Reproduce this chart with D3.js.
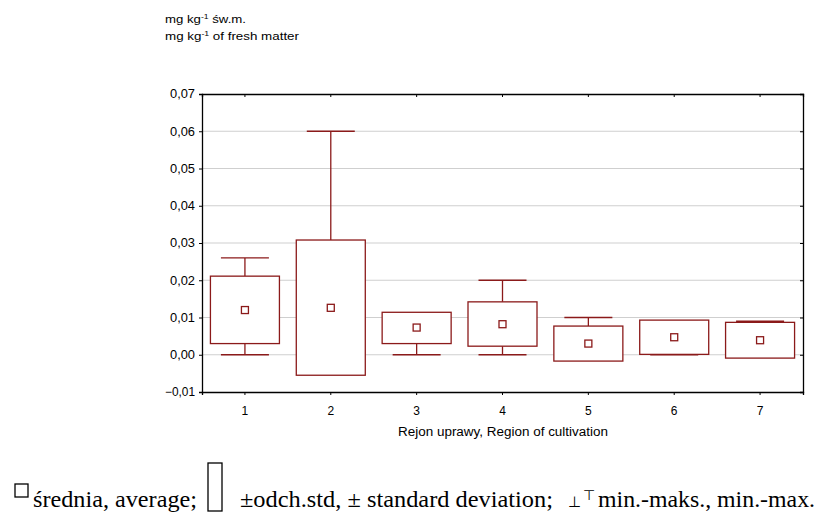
<!DOCTYPE html>
<html>
<head>
<meta charset="utf-8">
<script src="https://cdn.jsdelivr.net/npm/d3@7"></script>
<style>
  body { margin: 0; background: #fff; }
  .sans { font-family: "Liberation Sans", Arial, sans-serif; }
  .serif { font-family: "Liberation Serif", "Times New Roman", serif; }
</style>
</head>
<body>
<div id="chart"></div>
<script>
// data
const regions = ["1", "2", "3", "4", "5", "6", "7"];
const means   = [0.0120, 0.0126, 0.0073, 0.0082, 0.0030, 0.0047, 0.0039];
const sdLow   = [0.0030, -0.0055, 0.0030, 0.0023, -0.0017, 0.0001, -0.0009];
const sdHigh  = [0.0211, 0.0308, 0.0114, 0.0142, 0.0077, 0.0093, 0.0087];
const minVals = [0.000, 0.000, 0.000, 0.000, 0.000, 0.000, 0.000];
const maxVals = [0.026, 0.060, 0.011, 0.020, 0.010, 0.009, 0.009];
const yTicks  = [-0.01, 0, 0.01, 0.02, 0.03, 0.04, 0.05, 0.06, 0.07];

const width = 818, height = 524;
const margin = { top: 94, right: 15, bottom: 132, left: 202 };
const red = "#8b1a1a";

const data = regions.map((r, i) => ({
  region: r, mean: means[i], lo: sdLow[i], hi: sdHigh[i], min: minVals[i], max: maxVals[i]
}));

const svg = d3.select("#chart").append("svg")
  .attr("width", width)
  .attr("height", height);

const x = d3.scaleBand()
  .domain(regions)
  .range([margin.left, width - margin.right]);

const y = d3.scaleLinear()
  .domain([-0.01, 0.07])
  .range([height - margin.bottom, margin.top]);

const fmt = d => d3.format(".2f")(d).replace(".", ",").replace("-0,00", "0,00");

const chart = svg.append("g").attr("class", "sans");

// grid
chart.append("g")
  .selectAll("line")
  .data(yTicks.slice(1, -1))
  .join("line")
  .attr("x1", margin.left).attr("x2", width - margin.right)
  .attr("y1", d => y(d)).attr("y2", d => y(d))
  .attr("stroke", "#cfcfcf")
  .attr("stroke-width", 1);

// axes
const left = chart.append("g")
  .attr("transform", `translate(${margin.left},0)`)
  .call(d3.axisLeft(y).tickValues(yTicks).tickFormat(fmt).tickSize(3).tickPadding(4));
const bottom = chart.append("g")
  .attr("transform", `translate(0,${height - margin.bottom})`)
  .call(d3.axisBottom(x).tickSize(3).tickPadding(11));
chart.append("g")
  .attr("transform", `translate(0,${margin.top})`)
  .call(d3.axisTop(x).tickSize(-3).tickFormat(""));
chart.append("g")
  .attr("transform", `translate(${width - margin.right},0)`)
  .call(d3.axisRight(y).tickValues(yTicks).tickSize(-3).tickFormat(""));

chart.selectAll(".domain").attr("stroke", "#000").attr("stroke-width", 1.3);
chart.selectAll(".tick line").attr("stroke", "#000");
chart.selectAll("g").attr("font-family", null);
left.selectAll("text").attr("font-size", 12).attr("fill", "#000")
  .attr("textLength", d => d < 0 ? 30 : 25).attr("lengthAdjust", "spacingAndGlyphs");
bottom.selectAll("text").attr("font-size", 12).attr("fill", "#000");

// boxes
const boxW = 69, capW = 48;
const g = chart.append("g").attr("stroke", red).attr("fill", "none").attr("stroke-width", 1.3);

data.forEach(d => {
  const cx = x(d.region) + x.bandwidth() / 2;
  // whiskers
  if (d.max > d.hi) {
    g.append("line").attr("x1", cx).attr("x2", cx).attr("y1", y(d.hi)).attr("y2", y(d.max));
  }
  g.append("line").attr("x1", cx - capW / 2).attr("x2", cx + capW / 2).attr("y1", y(d.max)).attr("y2", y(d.max));
  if (d.min < d.lo) {
    g.append("line").attr("x1", cx).attr("x2", cx).attr("y1", y(d.lo)).attr("y2", y(d.min));
    g.append("line").attr("x1", cx - capW / 2).attr("x2", cx + capW / 2).attr("y1", y(d.min)).attr("y2", y(d.min));
  } else if (Math.abs(y(d.min) - y(d.lo)) < 3) {
    g.append("line").attr("x1", cx - capW / 2).attr("x2", cx + capW / 2).attr("y1", y(d.min)).attr("y2", y(d.min));
  }
  // sd box
  g.append("rect")
    .attr("x", cx - boxW / 2).attr("width", boxW)
    .attr("y", y(d.hi)).attr("height", y(d.lo) - y(d.hi))
    .attr("fill", "#fff");
  // mean marker
  g.append("rect")
    .attr("x", cx - 3.5).attr("y", y(d.mean) - 3.5)
    .attr("width", 7).attr("height", 7)
    .attr("fill", "#fff");
});

// titles
const unit = chart.append("g").attr("font-size", 11.5).attr("fill", "#000");
const t1 = unit.append("text").attr("x", 165).attr("y", 23)
  .attr("textLength", 81).attr("lengthAdjust", "spacingAndGlyphs");
t1.append("tspan").text("mg kg");
t1.append("tspan").attr("font-size", 7.5).attr("dy", -4).text("-1");
t1.append("tspan").attr("dy", 4).text(" św.m.");
const t2 = unit.append("text").attr("x", 165).attr("y", 40)
  .attr("textLength", 134).attr("lengthAdjust", "spacingAndGlyphs");
t2.append("tspan").text("mg kg");
t2.append("tspan").attr("font-size", 7.5).attr("dy", -4).text("-1");
t2.append("tspan").attr("dy", 4).text(" of fresh matter");

chart.append("text")
  .attr("x", 398)
  .attr("y", 436)
  .attr("font-size", 12)
  .attr("textLength", 210).attr("lengthAdjust", "spacingAndGlyphs")
  .text("Rejon uprawy, Region of cultivation");

// legend
const leg = svg.append("g").attr("class", "serif").attr("font-family", "Liberation Serif");
leg.append("rect").attr("x", 15).attr("y", 484).attr("width", 13).attr("height", 13)
  .attr("fill", "none").attr("stroke", "#000").attr("stroke-width", 1.3);
leg.append("text").attr("x", 33).attr("y", 507).attr("font-size", 23)
  .attr("textLength", 164).attr("lengthAdjust", "spacingAndGlyphs")
  .text("średnia, average;");
leg.append("rect").attr("x", 208).attr("y", 463).attr("width", 14).attr("height", 48)
  .attr("fill", "none").attr("stroke", "#000").attr("stroke-width", 1.3);
leg.append("text").attr("x", 240).attr("y", 507).attr("font-size", 23)
  .attr("textLength", 313).attr("lengthAdjust", "spacingAndGlyphs")
  .text("±odch.std, ± standard deviation;");
leg.append("text").attr("x", 568).attr("y", 507).attr("font-size", 15)
  .text("⊥");
leg.append("text").attr("x", 583).attr("y", 500).attr("font-size", 14)
  .text("⊤");
leg.append("text").attr("x", 598).attr("y", 507).attr("font-size", 23)
  .attr("textLength", 217).attr("lengthAdjust", "spacingAndGlyphs")
  .text("min.-maks., min.-max.");
</script>
</body>
</html>
